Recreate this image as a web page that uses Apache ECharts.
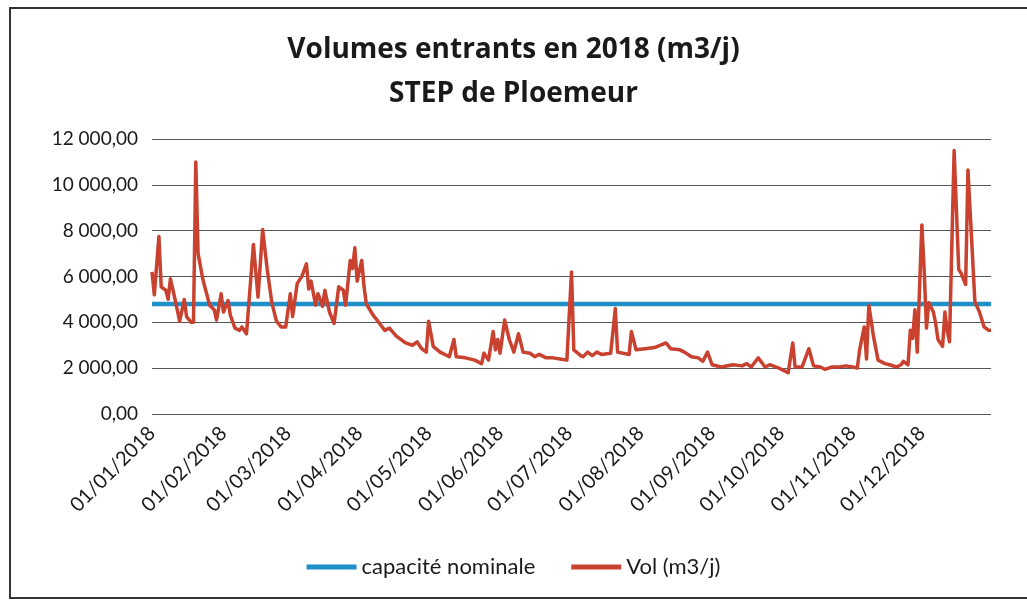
<!DOCTYPE html>
<html>
<head>
<meta charset="utf-8">
<title>Volumes entrants 2018</title>
<script src="https://cdn.jsdelivr.net/npm/echarts@6/dist/echarts.min.js"></script>
<style>
    html, body { margin: 0; padding: 0; background: #fff; }
    #chart { width: 1027px; height: 603px; }
</style>
</head>
<body>
<div id="chart"></div>
<script>
// jour de l'année (0 = 01/01/2018) et volume
const jours = [
    0, 1, 3, 4, 6, 7, 8, 10, 12, 14, 15, 17, 18, 19, 20, 22, 25, 27, 28, 30,
    31, 33, 34, 36, 38, 39, 41, 44, 46, 48, 50, 52, 54, 56, 58, 60, 61, 63, 65, 67,
    68, 69, 71, 72, 74, 75, 77, 79, 81, 83, 84, 86, 87, 88, 89, 91, 92, 93, 96, 98,
    101, 103, 106, 110, 113, 115, 117, 119, 120, 122, 125, 129, 131, 132, 136, 140, 143, 144, 146, 148,
    149, 150, 151, 153, 155, 157, 159, 161, 164, 166, 168, 171, 174, 177, 180, 182, 183, 186, 187, 189,
    191, 193, 195, 199, 201, 202, 207, 208, 210, 214, 218, 223, 225, 229, 231, 234, 237, 239, 241, 243,
    247, 252, 256, 258, 260, 263, 266, 268, 272, 276, 278, 279, 282, 285, 287, 290, 292, 295, 298, 301,
    304, 306, 307, 309, 310, 311, 313, 315, 318, 320, 323, 325, 326, 328, 329, 330, 331, 332, 334, 335,
    336, 337, 339, 340, 341, 343, 344, 345, 346, 348, 350, 351, 353, 354, 356, 357, 359, 361, 363, 364
]
const volumes = [
    6200, 5200, 7750, 5550, 5400, 5000, 5900, 5000, 4050, 5000, 4250, 4000, 4000, 11000, 7000, 5900, 4750, 4550, 4100, 5250,
    4450, 4950, 4300, 3750, 3650, 3800, 3500, 7400, 5100, 8050, 6300, 4850, 4050, 3800, 3800, 5250, 4250, 5700, 6000, 6550,
    5450, 5800, 4750, 5250, 4700, 5400, 4450, 3950, 5550, 5400, 4750, 6700, 6350, 7250, 5800, 6700, 5550, 4800, 4300, 4050,
    3650, 3750, 3400, 3100, 3000, 3150, 2850, 2700, 4050, 2950, 2700, 2500, 3250, 2500, 2450, 2350, 2200, 2650, 2350, 3600,
    2800, 3250, 2650, 4100, 3250, 2700, 3500, 2700, 2650, 2500, 2600, 2450, 2450, 2400, 2350, 6200, 2800, 2550, 2500, 2700,
    2550, 2700, 2600, 2650, 4600, 2700, 2600, 3600, 2800, 2850, 2900, 3100, 2850, 2800, 2700, 2500, 2450, 2300, 2700, 2150,
    2050, 2150, 2100, 2200, 2050, 2450, 2050, 2150, 2000, 1800, 3100, 2050, 2050, 2850, 2100, 2050, 1950, 2050, 2050, 2100,
    2050, 2000, 2800, 3800, 2400, 4750, 3400, 2350, 2200, 2150, 2050, 2150, 2300, 2150, 3650, 3300, 4550, 2700, 8250, 6300,
    3750, 4850, 4450, 3950, 3250, 2950, 4450, 3650, 3150, 11500, 6300, 6150, 5650, 10650, 6850, 4900, 4450, 3800, 3650, 3650
]
const capaciteNominale = 4800
const debut = '2018-01-01'
const fin = '2018-12-31'
const yTicks = { min: 0, max: 12000, interval: 2000 }

const DAY = 24 * 3600 * 1000
const t0 = Date.UTC(2018, 0, 1)
const volData = jours.map((j, i) => [t0 + j * DAY, volumes[i]])
const capData = [[t0, capaciteNominale], [t0 + 364 * DAY, capaciteNominale]]

function fmtNombre(v) {
    let s = v.toFixed(2).replace('.', ',')
    let parts = s.split(',')
    parts[0] = parts[0].replace(/\B(?=(\d{3})+(?!\d))/g, ' ')
    return parts.join(',')
}
function fmtDate(v) {
    let d = new Date(v)
    let dd = String(d.getUTCDate()).padStart(2, '0')
    let mm = String(d.getUTCMonth() + 1).padStart(2, '0')
    return dd + '/' + mm + '/' + d.getUTCFullYear()
}

const FONT = 'Lato, "Open Sans", sans-serif'
let chart = echarts.init(document.getElementById('chart'))
let option = {
    backgroundColor: '#fff',
    animation: false,
    textStyle: { fontFamily: FONT },
    title: {
        text: 'Volumes entrants en 2018 (m3/j)\nSTEP de Ploemeur',
        left: 'center',
        top: 23,
        textStyle: {
            fontFamily: '"Open Sans", sans-serif',
            fontSize: 28,
            fontWeight: 'bold',
            color: '#1a1a1a',
            lineHeight: 44
        }
    },
    graphic: [{
        type: 'rect',
        shape: { x: 10, y: 8, width: 1030, height: 590 },
        style: { fill: 'none', stroke: '#333', lineWidth: 2 },
        silent: true
    }],
    legend: {
        bottom: 20,
        left: 'center',
        itemWidth: 50,
        itemHeight: 5,
        itemGap: 36,
        icon: 'rect',
        textStyle: { fontFamily: FONT, fontSize: 22, color: '#1a1a1a' },
        data: ['capacité nominale', 'Vol (m3/j)']
    },
    grid: {
        left: 152,
        right: 36,
        top: 139,
        bottom: 189,
        containLabel: false
    },
    xAxis: {
        type: 'time',
        min: debut,
        max: fin,
        minInterval: 28 * DAY,
        maxInterval: 31 * DAY,
        axisLine: { show: false },
        axisTick: { show: false },
        splitLine: { show: false },
        axisLabel: {
            rotate: 45,
            fontSize: 20,
            color: '#1a1a1a',
            fontFamily: FONT,
            margin: 16,
            showMaxLabel: false,
            hideOverlap: false,
            formatter: (v) => fmtDate(v)
        }
    },
    yAxis: {
        type: 'value',
        min: yTicks.min,
        max: yTicks.max,
        interval: yTicks.interval,
        axisLine: { show: false },
        axisTick: { show: false },
        splitLine: { lineStyle: { color: '#555', width: 1.2 } },
        axisLabel: {
            fontSize: 19,
            color: '#1a1a1a',
            fontFamily: FONT,
            margin: 14,
            formatter: (v) => fmtNombre(v)
        }
    },
    series: [
        {
            name: 'capacité nominale',
            type: 'line',
            data: capData,
            showSymbol: false,
            lineStyle: { color: '#1f8fc8', width: 4.5 },
            itemStyle: { color: '#1f8fc8' }
        },
        {
            name: 'Vol (m3/j)',
            type: 'line',
            data: volData,
            showSymbol: false,
            lineStyle: { color: '#c9412f', width: 3.5, join: 'round' },
            itemStyle: { color: '#c9412f' }
        }
    ]
}
chart.setOption(option)
window.addEventListener('resize', () => {
    chart.resize()
})
</script>
</body>
</html>
